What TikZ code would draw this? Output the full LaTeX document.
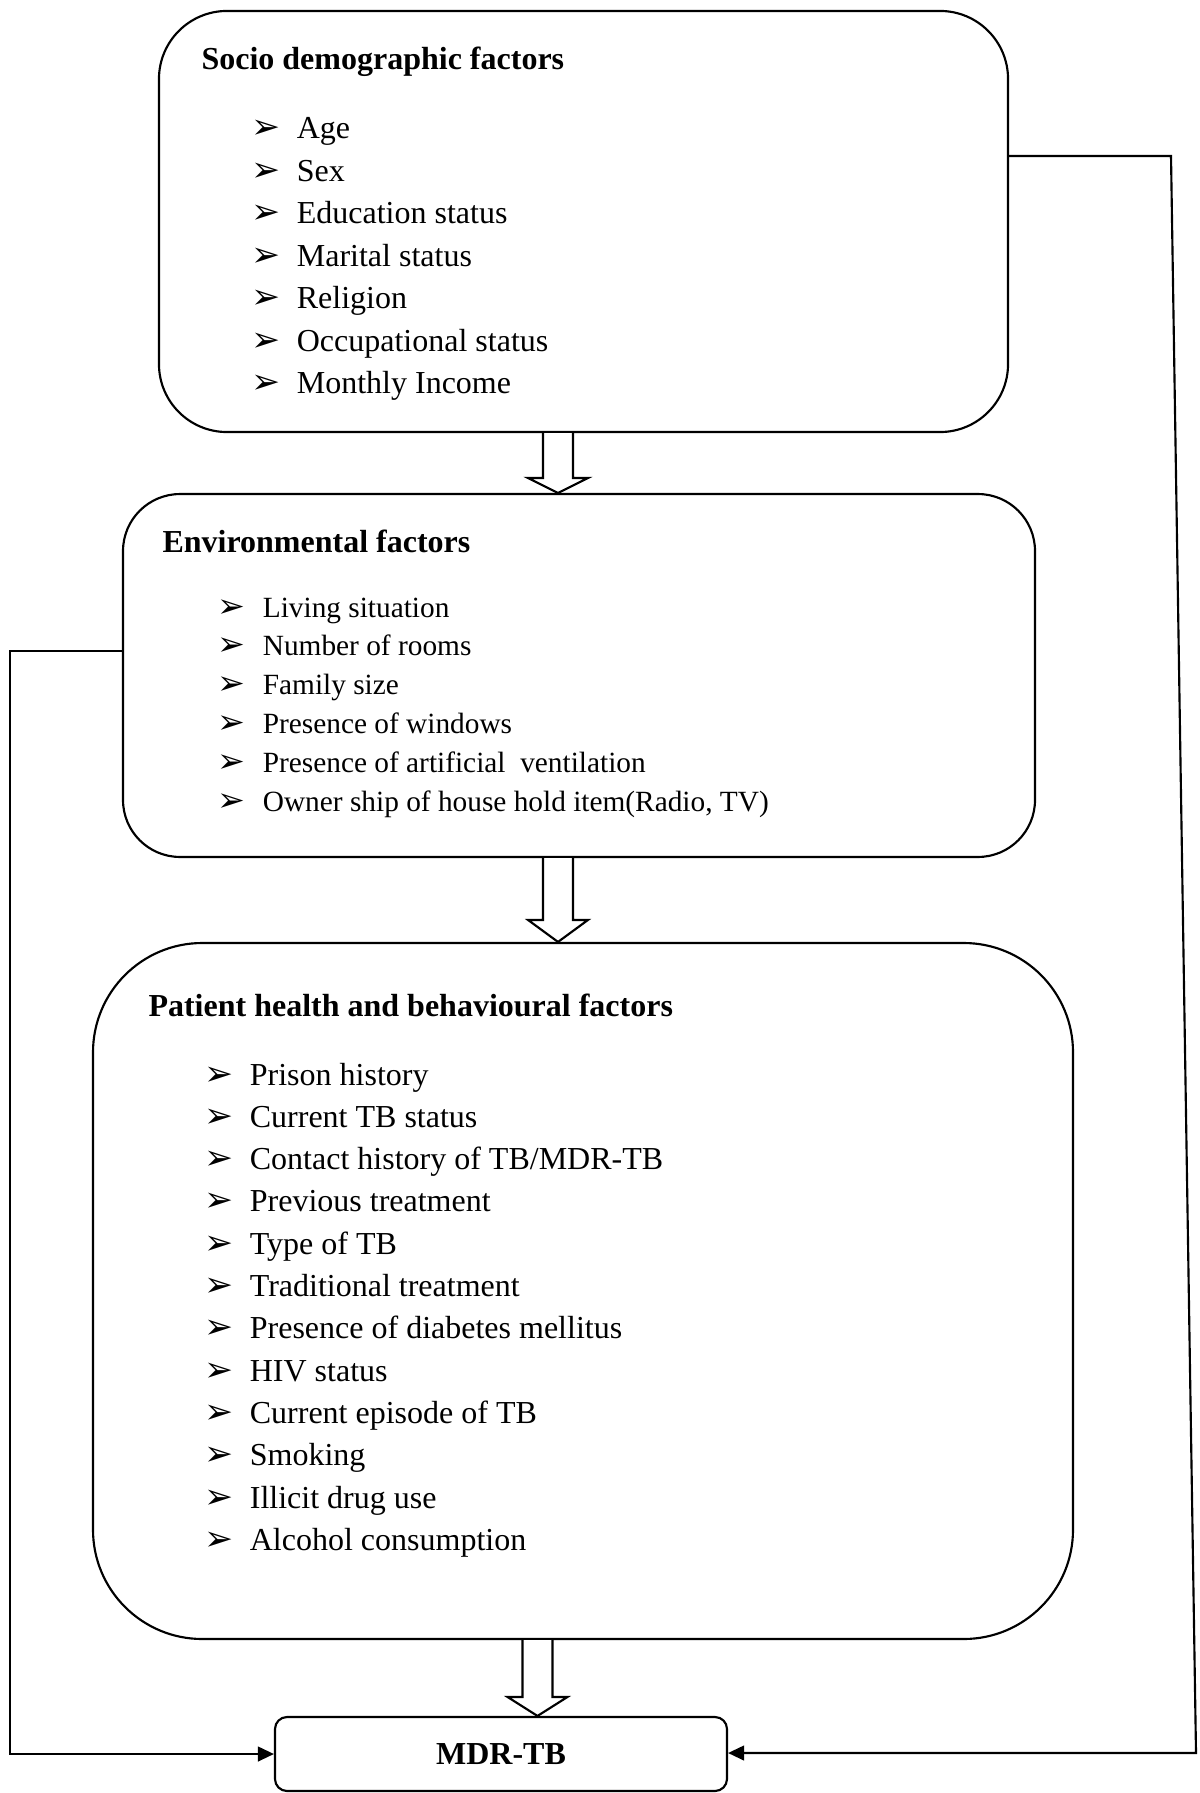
\documentclass[tikz,border=0pt]{standalone}
\usepackage{fontspec}
\setmainfont{Liberation Serif}
\newfontfamily\dingfont{DejaVu Sans}
\usetikzlibrary{arrows.meta,calc}

% arrow-head bullet of the lists
\newcommand{\arrowbullet}[1]{\makebox[17pt][l]{\dingfont\fontsize{#1}{#1}\selectfont ➢}}

% hollow block arrow: x coordinate, upper box, lower box, head length
\newcommand{\hollowarrow}[4]{%
  \draw[hollow arrow] ($(#1 |- #2.south)+(-15,0)$) -- ($(#1 |- #3.north)+(-15,-#4)$)
    -- ($(#1 |- #3.north)+(-30,-#4)$) -- (#1 |- #3.north)
    -- ($(#1 |- #3.north)+(30,-#4)$) -- ($(#1 |- #3.north)+(15,-#4)$)
    -- ($(#1 |- #2.south)+(15,0)$);}

\begin{document}
\begin{tikzpicture}[x=0.375pt,y=-0.375pt,>={Triangle[length=6pt,width=5.5pt]}]

\useasboundingbox (0,0) rectangle (1199,1793);

\tikzset{
    factor box/.style={
        draw, line width=0.8pt, rectangle, rounded corners=#1, inner sep=0pt
    },
    head text/.style={
        anchor=base west, inner sep=0pt, font=\bfseries\fontsize{12}{14}\selectfont
    },
    item text/.style={
        anchor=base west, inner sep=0pt, font=\fontsize{#1}{#1}\selectfont
    },
    link/.style={line width=0.8pt, ->},
    hollow arrow/.style={line width=0.8pt, fill=white, line join=miter}
}

% FACTOR BOXES
\node[factor box=25.5pt, minimum width=318.4pt, minimum height=157.9pt] (SD) at (583.5,221.5) {};
\node[factor box=21.4pt, minimum width=342pt, minimum height=136.1pt] (EF) at (579,675.5) {};
\node[factor box=41pt, minimum width=367.5pt, minimum height=261pt] (PH) at (583,1291) {};
\node[factor box=4.5pt, minimum width=169.5pt, minimum height=27.75pt,
      font=\bfseries\fontsize{12}{14}\selectfont] (MDR) at (501,1754) {MDR-TB};

% Titles
\node[head text] (SDt) at (201,70) {Socio demographic factors};
\node[head text] (EFt) at (162,552) {Environmental factors};
\node[head text] (PHt) at (148,1016) {Patient health and behavioural factors};

% Lists
\foreach \txt [count=\i] in {Age, Sex, Education status, Marital status, Religion,
    Occupational status, Monthly Income}
    \node[item text=12] (sd\i) at (251,{139+42.5*(\i-1)}) {\arrowbullet{13}\txt};

\foreach \txt [count=\i] in {Living situation, Number of rooms, Family size,
    Presence of windows, Presence of artificial\ \ ventilation,
    {Owner ship of house hold item(Radio, TV)}}
    \node[item text=11] (ef\i) at (217,{617+38.9*(\i-1)}) {\arrowbullet{12.5}\txt};

\foreach \txt [count=\i] in {Prison history, Current TB status, Contact history of TB/MDR-TB,
    Previous treatment, Type of TB, Traditional treatment, Presence of diabetes mellitus,
    HIV status, Current episode of TB, Smoking, Illicit drug use, Alcohol consumption}
    \node[item text=12] (ph\i) at (204,{1085+42.3*(\i-1)}) {\arrowbullet{13}\txt};

% --- BLOCK ARROWS ---
\coordinate (colA) at (558,0);
\coordinate (colB) at (537.5,0);
\hollowarrow{colA}{SD}{EF}{15}
\hollowarrow{colA}{EF}{PH}{22}
\hollowarrow{colB}{PH}{MDR}{19}

% --- SIDE LINKS ---
\coordinate (lbend) at (10,651);
\draw[link] (EF.west |- lbend) -- (lbend) -- (lbend |- MDR.west) -- (MDR.west);

\coordinate (rtop) at (1171,156);
\coordinate (rbot) at (1196,1753);
\draw[link] (SD.east |- rtop) -- (rtop) -- (rbot) -- (rbot -| MDR.east);

\end{tikzpicture}
\end{document}
